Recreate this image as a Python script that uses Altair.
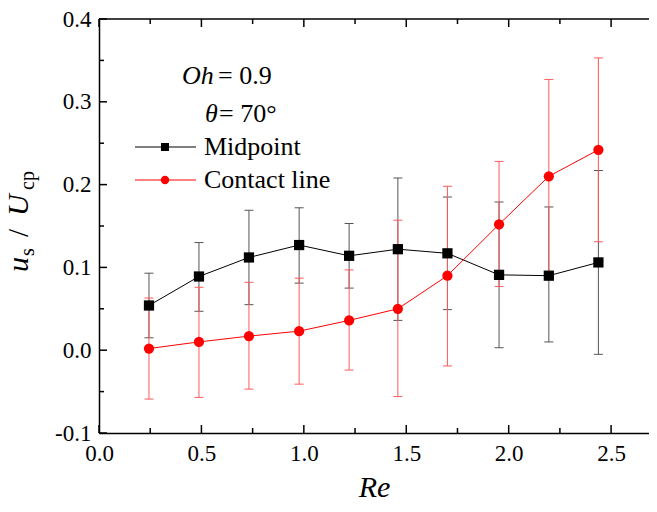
import altair as alt
import pandas as pd

# ---------------- data ----------------
re_vals = [0.244, 0.488, 0.732, 0.977, 1.221, 1.459, 1.701, 1.953, 2.196, 2.438]

mid_v = [0.054, 0.089, 0.112, 0.127, 0.114, 0.122, 0.117, 0.091, 0.090, 0.106]
mid_hi = [0.093, 0.130, 0.169, 0.172, 0.153, 0.208, 0.185, 0.179, 0.173, 0.217]
mid_lo = [0.015, 0.047, 0.055, 0.081, 0.075, 0.036, 0.049, 0.003, 0.010, -0.005]

cl_v = [0.002, 0.010, 0.017, 0.023, 0.036, 0.050, 0.090, 0.152, 0.210, 0.242]
cl_hi = [0.063, 0.076, 0.082, 0.087, 0.097, 0.157, 0.198, 0.228, 0.327, 0.353]
cl_lo = [-0.059, -0.057, -0.047, -0.041, -0.024, -0.056, -0.019, 0.077, 0.093, 0.131]

series_names = ["Midpoint", "Contact line"]

x_major = [0.0, 0.5, 1.0, 1.5, 2.0, 2.5]
x_minor = [0.25, 0.75, 1.25, 1.75, 2.25]
y_major = [-0.1, 0.0, 0.1, 0.2, 0.3, 0.4]
y_minor = [-0.05, 0.05, 0.15, 0.25, 0.35]

# ---------------- layout / style ----------------
W, H = 550, 414
FONT = "Liberation Serif"
RED = "#ff0000"
xs = alt.Scale(domain=[0, 2.685], nice=False, zero=False)
ys = alt.Scale(domain=[-0.1, 0.4], nice=False, zero=False)

mid_df = pd.DataFrame({"Re": re_vals, "v": mid_v, "lo": mid_lo, "hi": mid_hi})
cl_df = pd.DataFrame({"Re": re_vals, "v": cl_v, "lo": cl_lo, "hi": cl_hi})

X = lambda f: alt.X(f, type="quantitative", scale=xs)
Y = lambda f: alt.Y(f, type="quantitative", scale=ys)

# base layer carrying the axes
axes_layer = alt.Chart(mid_df).mark_point(opacity=0).encode(
    x=alt.X("Re:Q", scale=xs, axis=alt.Axis(
        values=x_major, format=".1f", ticks=False, grid=False, labelFlush=False,
        domainColor="black", domainWidth=1.5,
        labelFont=FONT, labelFontSize=23, labelColor="black", labelPadding=9,
        title="Re", titleFont=FONT, titleFontStyle="italic", titleFontSize=30,
        titleFontWeight="normal", titleColor="black",
        titleBaseline="alphabetic", titleY=63)),
    y=alt.Y("v:Q", scale=ys, axis=alt.Axis(
        values=y_major, ticks=False, grid=False, labelFlush=False,
        labelExpr="datum.value < 0 ? '-' + format(-datum.value, '.1f') : format(datum.value, '.1f')",
        domainColor="black", domainWidth=1.5,
        labelFont=FONT, labelFontSize=23, labelColor="black", labelPadding=8,
        title=None)),
)


def series_layers(df, color, barcolor, shape, size):
    base = alt.Chart(df)
    bars = base.mark_rule(color=barcolor, strokeWidth=1).encode(
        x=X("Re"), y=Y("lo"), y2="hi")
    cap_hi = base.mark_tick(orient="horizontal", size=9, thickness=1,
                            color=barcolor, opacity=1).encode(x=X("Re"), y=Y("hi"))
    cap_lo = base.mark_tick(orient="horizontal", size=9, thickness=1,
                            color=barcolor, opacity=1).encode(x=X("Re"), y=Y("lo"))
    line = base.mark_line(color=color, strokeWidth=1).encode(x=X("Re"), y=Y("v"))
    pts = base.mark_point(shape=shape, filled=True, size=size, color=color,
                          opacity=1, strokeWidth=0).encode(x=X("Re"), y=Y("v"))
    return [bars, cap_hi, cap_lo], [line], [pts]


mb, ml, mp = series_layers(mid_df, "black", "#555555", "square", 105)
cb, cline, cp = series_layers(cl_df, RED, "#ff5a5a", "circle", 105)


# inward ticks (mirrored on the top edge)
def tick_layers():
    out = []
    for vals, ln in ((x_major, 8), (x_minor, 5)):
        d = alt.Chart(pd.DataFrame({"t": vals}))
        out.append(d.mark_rule(color="black", strokeWidth=1.5).encode(
            x=X("t"), y=alt.value(H), y2=alt.value(H - ln)))
        out.append(d.mark_rule(color="black", strokeWidth=1.5).encode(
            x=X("t"), y=alt.value(0), y2=alt.value(ln)))
    for vals, ln in ((y_major, 8), (y_minor, 5)):
        d = alt.Chart(pd.DataFrame({"t": vals}))
        out.append(d.mark_rule(color="black", strokeWidth=1.5).encode(
            y=Y("t"), x=alt.value(0), x2=alt.value(ln)))
    # top frame line
    out.append(alt.Chart(pd.DataFrame({"t": [0]})).mark_rule(
        color="black", strokeWidth=1.5).encode(
        x=alt.value(0), x2=alt.value(W), y=alt.value(0)))
    return out


def txt(s, x, y, size, style="normal", angle=0, color="black"):
    return alt.Chart(pd.DataFrame({"s": [s]})).mark_text(
        font=FONT, fontSize=size, fontStyle=style, align="left",
        baseline="alphabetic", color=color, angle=angle).encode(
        text="s:N", x=alt.value(x), y=alt.value(y))


# y-axis title: u_s / U_cp (rotated)
ytitle = [
    txt("u", -71, 253, 30, "italic", 270),
    txt("s", -65, 237, 20, "normal", 270),
    txt("/", -71, 218, 29, "normal", 270),
    txt("U", -71, 197, 30, "italic", 270),
    txt("cp", -65, 171, 20, "normal", 270),
]

# annotation
annot = [
    txt("Oh", 83, 65, 26, "italic"),
    txt("= 0.9", 119, 65, 26),
    txt("θ", 106, 103, 26, "italic"),
    txt("= 70°", 120, 103, 26),
]

# legend
legend = []
for i, (name, color, shape, sz) in enumerate(
        [(series_names[0], "black", "square", 64), (series_names[1], RED, "circle", 70)]):
    yy = 128 + 33 * i
    d = alt.Chart(pd.DataFrame({"s": [name]}))
    legend.append(d.mark_rule(color=color, strokeWidth=1).encode(
        x=alt.value(36), x2=alt.value(97), y=alt.value(yy)))
    legend.append(d.mark_point(shape=shape, filled=True, size=sz, color=color,
                               opacity=1, strokeWidth=0).encode(
        x=alt.value(66), y=alt.value(yy)))
    legend.append(d.mark_text(font=FONT, fontSize=26, align="left",
                              baseline="alphabetic", color="black").encode(
        text="s:N", x=alt.value(105), y=alt.value(yy + 8)))

layers = [axes_layer] + mb + cb + ml + cline + mp + cp + tick_layers() + ytitle + annot + legend

chart = (
    alt.layer(*layers)
    .properties(
        width=W, height=H,
        autosize=alt.AutoSizeParams(type="none"),
        padding={"left": 91, "top": 11, "right": 0, "bottom": 66},
    )
    .configure(font=FONT)
    .configure_axis(labelFont=FONT, titleFont=FONT)
    .configure_text(font=FONT)
    .configure_view(strokeWidth=0)
)

chart.save("out.html", embed_options={"renderer": "svg", "actions": False})
